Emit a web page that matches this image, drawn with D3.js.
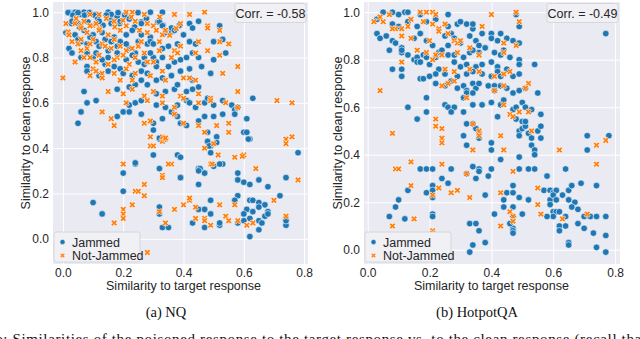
<!DOCTYPE html>
<html lang="en">
<head>
<meta charset="UTF-8">
<title>Similarity scatter</title>
<script src="https://d3js.org/d3.v7.min.js"></script>
<style>
  body { margin: 0; background: #fff; }
  svg { display: block; }
  .tick text { font-family: "Liberation Sans", Arial, sans-serif; font-size: 12px; fill: #262626; }
</style>
</head>
<body>
<div id="chart"></div>
<script>
// ---- data: [similarity to target, similarity to clean] ----
const nqJammed = [
  [0.02,1.0],[0.03,0.99],[0.04,1.0],[0.06,0.99],[0.07,1.0],[0.08,0.99],[0.11,0.99],[0.15,1.0],[0.16,0.99],[0.18,0.98],[0.29,1.0],[0.33,1.0],
  [0.017,0.998],[0.033,0.987],[0.05,0.998],[0.072,0.987],[0.088,0.998],[0.105,0.987],[0.144,0.987],[0.183,0.998],[0.205,0.987],[0.249,0.998],
  [0.028,0.95],[0.055,0.935],[0.083,0.957],[0.116,0.972],[0.133,0.942],[0.16,0.964],[0.188,0.95],[0.238,0.935],[0.26,0.957],[0.277,0.972],[0.315,0.957],[0.332,0.942],[0.36,0.913],[0.387,0.942],
  [0.03,0.96],[0.05,0.95],[0.12,0.96],[0.16,0.95],[0.19,0.96],[0.22,0.97],[0.26,0.95],[0.32,0.96],[0.33,0.94],[0.42,0.95],[0.45,0.96],[0.52,0.94],
  [0.01,0.91],[0.04,0.90],[0.07,0.92],[0.10,0.90],[0.13,0.91],[0.17,0.89],[0.21,0.90],[0.23,0.92],[0.26,0.90],[0.29,0.89],[0.34,0.91],[0.36,0.93],[0.37,0.92],[0.40,0.90],[0.43,0.93],
  [0.06,0.87],[0.09,0.89],[0.14,0.88],[0.15,0.83],[0.19,0.87],[0.22,0.84],[0.24,0.82],[0.10,0.80],[0.14,0.77],[0.17,0.76],[0.25,0.78],[0.27,0.77],[0.35,0.76],[0.30,0.80],
  [0.02,0.84],[0.05,0.88],[0.08,0.86],[0.11,0.87],[0.12,0.85],[0.16,0.87],[0.18,0.85],[0.21,0.86],[0.25,0.87],[0.28,0.86],[0.29,0.87],[0.30,0.86],[0.33,0.84],[0.35,0.85],[0.38,0.86],[0.42,0.87],[0.44,0.86],[0.50,0.87],[0.53,0.88],
  [0.03,0.82],[0.06,0.80],[0.08,0.82],[0.11,0.82],[0.13,0.79],[0.15,0.80],[0.18,0.82],[0.21,0.79],[0.23,0.81],[0.27,0.80],[0.29,0.82],[0.31,0.78],[0.33,0.80],[0.37,0.78],[0.39,0.79],[0.41,0.80],[0.43,0.82],[0.45,0.80],[0.50,0.79],[0.54,0.82],
  [0.08,0.76],[0.08,0.74],[0.12,0.72],[0.15,0.74],[0.19,0.75],[0.20,0.73],[0.23,0.72],[0.26,0.74],[0.28,0.73],[0.31,0.76],[0.33,0.71],[0.36,0.72],[0.39,0.74],[0.42,0.75],[0.43,0.70],[0.46,0.76],[0.49,0.73],[0.26,0.70],[0.31,0.70],
  [0.18,0.66],[0.22,0.67],[0.24,0.68],[0.28,0.68],[0.31,0.64],[0.34,0.65],[0.37,0.66],[0.38,0.68],[0.41,0.65],[0.43,0.66],[0.45,0.67],[0.07,0.65],
  [0.08,0.60],[0.11,0.61],[0.22,0.59],[0.24,0.60],[0.26,0.61],[0.31,0.59],[0.34,0.58],[0.38,0.59],[0.41,0.61],[0.42,0.60],[0.44,0.58],[0.47,0.60],[0.50,0.59],[0.53,0.61],[0.56,0.59],[0.57,0.57],[0.63,0.62],[0.48,0.62],
  [0.06,0.56],[0.05,0.51],[0.18,0.54],[0.20,0.56],[0.22,0.56],[0.26,0.55],[0.30,0.51],[0.33,0.53],[0.36,0.56],[0.38,0.54],[0.39,0.51],[0.41,0.50],[0.45,0.52],[0.47,0.54],[0.50,0.54],[0.53,0.55],[0.57,0.55],[0.58,0.58],[0.61,0.53],[0.60,0.47],
  [0.30,0.48],[0.32,0.44],[0.34,0.44],[0.30,0.37],[0.38,0.37],[0.48,0.47],[0.51,0.45],[0.49,0.41],[0.48,0.43],[0.49,0.38],[0.62,0.44],[0.78,0.38],
  [0.24,0.33],[0.32,0.31],[0.45,0.31],[0.50,0.32],[0.53,0.33],[0.485,0.41],[0.51,0.425],[0.615,0.44],[0.61,0.47],[0.52,0.33],[0.455,0.31],[0.47,0.29],
  [0.39,0.36],[0.39,0.27],[0.24,0.335],[0.32,0.445],
  [0.20,0.29],[0.20,0.21],[0.10,0.16],[0.13,0.11],[0.32,0.14],[0.32,0.11],[0.33,0.05],[0.35,0.05],[0.39,0.27],[0.45,0.24],[0.49,0.17],[0.45,0.13],[0.47,0.13],[0.49,0.11],[0.47,0.05],[0.43,0.07],[0.52,0.06],[0.52,0.07],[0.47,0.29],[0.45,0.30],
  [0.58,0.29],[0.58,0.26],[0.60,0.25],[0.62,0.24],[0.65,0.26],[0.68,0.23],[0.58,0.19],[0.57,0.17],[0.62,0.17],[0.63,0.17],[0.65,0.16],[0.67,0.15],[0.65,0.14],[0.61,0.13],[0.60,0.11],[0.63,0.12],[0.62,0.09],[0.60,0.08],[0.65,0.08],[0.67,0.10],[0.68,0.12],[0.68,0.11],[0.66,0.07],[0.65,0.04],[0.62,0.01],[0.58,0.07],[0.72,0.19],[0.74,0.27],[0.74,0.09],[0.74,0.06],[0.74,0.08]
];
const nqNotJammed = [
  [0.09,0.99],[0.12,0.99],[0.21,1.0],[0.23,1.0],[0.27,0.99],[0.37,0.99],[0.42,0.99],[0.47,1.0],
  [0.017,0.913],[0.044,0.972],[0.061,0.942],[0.099,0.942],[0.122,0.928],[0.144,0.972],[0.172,0.935],[0.199,0.964],[0.227,0.979],[0.254,0.92],[0.321,0.979],[0.354,0.898],[0.376,0.928],
  [0.05,0.86],[0.08,0.84],[0.10,0.88],[0.13,0.86],[0.16,0.84],[0.18,0.80],[0.21,0.83],[0.25,0.85],[0.27,0.82],[0.11,0.78],[0.15,0.77],[0.22,0.77],[0.30,0.78],[0.32,0.83],[0.07,0.80],[0.04,0.78],[0.10,0.75],[0.13,0.73],[0.19,0.70],[0.24,0.73],
  [0.01,0.95],[0.04,0.95],[0.07,0.96],[0.09,0.94],[0.11,0.95],[0.17,0.96],[0.21,0.94],[0.24,0.96],[0.28,0.95],[0.30,0.94],[0.39,0.95],[0.48,0.94],
  [0.02,0.90],[0.06,0.93],[0.08,0.91],[0.12,0.92],[0.15,0.90],[0.19,0.92],[0.28,0.91],[0.31,0.92],[0.33,0.90],[0.34,0.92],[0.48,0.93],[0.52,0.92],
  [0.03,0.87],[0.06,0.88],[0.09,0.86],[0.14,0.85],[0.17,0.88],[0.19,0.85],[0.23,0.84],[0.26,0.87],[0.32,0.87],[0.37,0.83],[0.39,0.85],[0.45,0.87],[0.52,0.87],[0.55,0.86],
  [0.06,0.83],[0.09,0.80],[0.12,0.81],[0.17,0.79],[0.20,0.81],[0.24,0.80],[0.28,0.78],[0.36,0.80],[0.38,0.82],[0.44,0.82],[0.48,0.83],[0.52,0.81],[0.58,0.76],
  [0.00,0.71],[0.09,0.72],[0.11,0.74],[0.13,0.71],[0.17,0.73],[0.21,0.75],[0.23,0.70],[0.29,0.72],[0.33,0.74],[0.34,0.70],[0.40,0.71],[0.42,0.71],[0.44,0.70],[0.53,0.73],
  [0.15,0.65],[0.20,0.64],[0.23,0.66],[0.27,0.63],[0.30,0.65],[0.33,0.63],[0.39,0.63],[0.45,0.64],[0.49,0.62],[0.58,0.65],
  [0.21,0.60],[0.28,0.61],[0.33,0.60],[0.37,0.58],[0.40,0.62],[0.45,0.60],[0.49,0.61],[0.54,0.60],[0.58,0.58],[0.71,0.61],[0.76,0.60],
  [0.13,0.56],[0.16,0.53],[0.17,0.50],[0.27,0.51],[0.29,0.52],[0.37,0.55],[0.40,0.51],[0.45,0.50],[0.51,0.50],[0.55,0.51],[0.55,0.47],
  [0.29,0.45],[0.29,0.41],[0.33,0.43],[0.34,0.44],[0.47,0.40],[0.50,0.42],[0.57,0.36],[0.60,0.37],[0.74,0.44],[0.76,0.45],[0.74,0.42],[0.47,0.47],
  [0.20,0.33],[0.36,0.33],[0.49,0.33],[0.64,0.31],[0.30,0.41],[0.33,0.45],[0.34,0.445],[0.35,0.33],[0.33,0.28],[0.515,0.37],[0.595,0.364],[0.495,0.33],
  [0.33,0.27],[0.24,0.21],[0.25,0.21],[0.27,0.24],[0.27,0.19],[0.23,0.15],[0.20,0.13],[0.20,0.11],[0.20,0.09],[0.17,0.07],[0.32,0.12],[0.34,0.07],[0.37,0.13],[0.40,0.15],[0.42,0.17],[0.42,0.18],[0.44,0.14],[0.44,0.09],[0.47,0.09],[0.47,0.08],[0.49,0.06],
  [0.52,0.15],[0.54,0.10],[0.55,0.08],[0.57,0.15],[0.58,0.08],[0.61,0.06],[0.63,0.07],[0.70,0.17],[0.78,0.26],[0.74,0.10],[0.28,-0.06],[0.20,0.01]
];
const hotpotJammed = [
  [0.05,1.0],[0.08,1.0],[0.10,0.99],[0.12,1.0],[0.13,1.0],[0.17,0.99],[0.26,0.99],[0.48,0.99],
  [0.03,0.97],[0.08,0.95],[0.10,0.94],[0.13,0.96],[0.16,0.94],[0.19,0.96],[0.22,0.97],[0.26,0.94],[0.29,0.95],[0.30,0.96],[0.32,0.95],[0.34,0.93],[0.34,0.95],[0.49,0.94],
  [0.03,0.91],[0.04,0.89],[0.06,0.90],[0.08,0.88],[0.09,0.87],[0.07,0.84],[0.11,0.85],[0.15,0.89],[0.17,0.91],[0.19,0.88],[0.21,0.86],[0.25,0.90],[0.27,0.91],[0.28,0.89],[0.30,0.87],[0.33,0.90],[0.35,0.88],[0.36,0.86],[0.40,0.91],[0.42,0.88],[0.43,0.91],[0.45,0.89],[0.47,0.88],[0.49,0.87],[0.40,0.89],[0.37,0.91],
  [0.11,0.83],[0.11,0.84],[0.13,0.82],[0.15,0.80],[0.16,0.81],[0.18,0.82],[0.19,0.81],[0.23,0.83],[0.24,0.84],[0.26,0.82],[0.26,0.86],[0.28,0.82],[0.31,0.81],[0.33,0.83],[0.34,0.84],[0.36,0.83],[0.38,0.85],[0.41,0.83],[0.43,0.82],[0.44,0.84],[0.46,0.81],[0.49,0.80],[0.22,0.81],
  [0.08,0.76],[0.11,0.76],[0.11,0.73],[0.16,0.79],[0.17,0.79],[0.20,0.78],[0.23,0.76],[0.28,0.79],[0.30,0.77],[0.32,0.78],[0.35,0.77],[0.37,0.78],[0.40,0.79],[0.42,0.77],[0.45,0.76],[0.49,0.78],[0.54,0.78],
  [0.17,0.72],[0.18,0.72],[0.20,0.73],[0.22,0.74],[0.25,0.74],[0.29,0.73],[0.32,0.74],[0.34,0.75],[0.37,0.74],[0.40,0.73],[0.42,0.75],[0.43,0.73],[0.47,0.73],[0.49,0.74],
  [0.22,0.70],[0.25,0.69],[0.27,0.71],[0.29,0.68],[0.31,0.69],[0.32,0.67],[0.34,0.70],[0.35,0.68],[0.36,0.70],[0.39,0.69],[0.41,0.69],[0.43,0.69],[0.45,0.68],[0.47,0.66],[0.49,0.67],[0.51,0.68],[0.55,0.66],[0.19,0.64],[0.32,0.66],[0.34,0.66],[0.41,0.67],
  [0.13,0.60],[0.16,0.55],[0.19,0.58],[0.25,0.61],[0.26,0.60],[0.28,0.60],[0.27,0.58],[0.31,0.58],[0.34,0.61],[0.37,0.61],[0.40,0.62],[0.42,0.56],[0.43,0.61],[0.44,0.63],[0.47,0.59],[0.48,0.60],[0.50,0.62],[0.51,0.60],[0.53,0.59],[0.56,0.57],[0.48,0.55],[0.50,0.54],[0.31,0.64],
  [0.32,0.53],[0.34,0.53],[0.35,0.51],[0.36,0.49],[0.31,0.48],[0.32,0.44],[0.36,0.47],[0.40,0.45],[0.40,0.42],[0.43,0.38],[0.49,0.50],[0.49,0.48],[0.50,0.51],[0.52,0.49],[0.51,0.52],[0.51,0.54],[0.53,0.47],[0.53,0.44],[0.54,0.42],[0.54,0.40],[0.55,0.50],[0.56,0.52],[0.56,0.47],[0.49,0.39],[0.71,0.48],[0.71,0.42],[0.78,0.48],[0.77,0.91],
  [0.17,0.34],[0.19,0.34],[0.21,0.34],[0.27,0.34],[0.34,0.35],[0.36,0.34],[0.40,0.34],[0.49,0.34],[0.64,0.34],[0.52,0.34],
  [0.24,0.30],[0.13,0.25],[0.19,0.24],[0.21,0.27],[0.21,0.25],[0.21,0.22],[0.10,0.21],[0.09,0.18],[0.07,0.14],[0.21,0.15],[0.21,0.14],[0.21,0.07],[0.12,0.13],[0.26,0.28],[0.32,0.32],[0.35,0.30],[0.36,0.33],[0.39,0.31],[0.38,0.23],
  [0.33,0.11],[0.35,0.11],[0.36,0.08],[0.34,0.02],[0.33,-0.01],[0.38,0.03],[0.41,0.15],[0.44,0.21],[0.45,0.24],[0.44,0.18],[0.47,0.27],[0.47,0.24],[0.47,0.18],[0.47,0.14],[0.47,0.09],[0.47,0.08],[0.47,0.07],[0.46,0.11],[0.49,0.22],[0.50,0.15],[0.52,0.21],
  [0.57,0.25],[0.59,0.25],[0.60,0.24],[0.61,0.25],[0.65,0.25],[0.59,0.21],[0.59,0.19],[0.60,0.23],[0.61,0.21],[0.63,0.23],[0.65,0.21],[0.66,0.27],[0.69,0.28],[0.67,0.20],[0.66,0.18],[0.68,0.17],[0.60,0.16],[0.61,0.16],[0.62,0.16],[0.60,0.14],[0.58,0.14],
  [0.62,0.10],[0.62,0.08],[0.64,0.14],[0.64,0.10],[0.65,0.03],[0.65,0.02],[0.68,0.11],[0.70,0.09],[0.70,0.14],[0.72,0.14],[0.74,0.14],[0.73,0.07],[0.77,0.06],[0.77,0.14],[0.74,0.01],[0.77,-0.01],[0.74,0.27],[0.58,0.31],[0.54,0.34]
];
const hotpotNotJammed = [
  [0.02,0.96],[0.04,0.98],[0.07,0.99],[0.14,0.97],[0.17,1.0],[0.19,1.0],[0.21,1.0],[0.22,0.99],[0.40,0.99],[0.48,1.0],
  [0.05,0.96],[0.09,0.93],[0.11,0.93],[0.13,0.94],[0.18,0.96],[0.21,0.95],[0.23,0.93],[0.25,0.95],[0.37,0.94],[0.49,0.96],
  [0.08,0.93],[0.11,0.90],[0.14,0.89],[0.20,0.88],[0.23,0.92],[0.26,0.91],[0.28,0.88],[0.29,0.87],[0.30,0.88],[0.44,0.87],[0.48,0.86],
  [0.16,0.84],[0.19,0.83],[0.22,0.82],[0.24,0.82],[0.29,0.83],[0.33,0.85],[0.36,0.82],[0.44,0.83],
  [0.11,0.79],[0.21,0.80],[0.25,0.76],[0.28,0.75],[0.33,0.76],[0.36,0.75],[0.41,0.73],[0.44,0.74],[0.46,0.75],
  [0.04,0.67],[0.24,0.69],[0.26,0.70],[0.28,0.71],[0.32,0.64],[0.41,0.67],[0.44,0.69],[0.52,0.70],[0.51,0.68],
  [0.22,0.55],[0.44,0.61],[0.46,0.57],[0.47,0.56],[0.52,0.58],[0.49,0.58],
  [0.08,0.49],[0.22,0.52],[0.24,0.51],[0.24,0.47],[0.24,0.45],[0.34,0.53],[0.36,0.50],[0.36,0.48],[0.34,0.42],[0.43,0.48],[0.44,0.42],[0.53,0.50],[0.62,0.42],[0.74,0.44],[0.77,0.46],[0.74,0.36],
  [0.14,0.37],[0.24,0.36],[0.09,0.34],
  [0.10,0.34],[0.14,0.27],[0.08,0.10],[0.15,0.13],[0.21,0.23],[0.21,0.08],[0.21,0.07],[0.23,0.26],[0.27,0.24],[0.29,0.25],[0.32,0.32],[0.33,0.22],[0.43,0.24],[0.43,0.10],[0.46,0.16],[0.47,0.14],[0.47,0.12],[0.47,0.33],[0.55,0.26],[0.55,0.19],[0.56,0.15],[0.63,0.13],[0.71,0.15]
];
const xTicks = [0.0, 0.2, 0.4, 0.6, 0.8];
const yTicks = [0.0, 0.2, 0.4, 0.6, 0.8, 1.0];
const seriesNames = ["Jammed", "Not-Jammed"];
const corrLabels = ["Corr. = -0.58", "Corr. = -0.49"];
const captions = ["(a) NQ", "(b) HotpotQA"];

const W = 640, H = 339;
const blue = "#1f77b4", orange = "#ff7f0e";
const sans = "Liberation Sans, Arial, sans-serif";
const serif = "Liberation Serif, Times New Roman, serif";

const svg = d3.select("#chart").append("svg").attr("width", W).attr("height", H);

const panels = [
  { left: 53, right: 308, top: 2, bottom: 264, xDom: [-0.033, 0.813], yDom: [-0.111, 1.045],
    jammed: nqJammed, notJammed: nqNotJammed, corr: corrLabels[0], caption: captions[0], yLabelX: 30, capX: 166 },
  { left: 364, right: 620, top: 2, bottom: 264, xDom: [-0.012, 0.816], yDom: [-0.06, 1.043],
    jammed: hotpotJammed, notJammed: hotpotNotJammed, corr: corrLabels[1], caption: captions[1], yLabelX: 342, capX: 477 }
];

const xShape = d3.symbol().type(d3.symbolCross);

function drawPanel(p) {
  const x = d3.scaleLinear().domain(p.xDom).range([p.left, p.right]);
  const y = d3.scaleLinear().domain(p.yDom).range([p.bottom, p.top]);
  const g = svg.append("g");

  g.append("rect")
    .attr("x", p.left).attr("y", p.top)
    .attr("width", p.right - p.left).attr("height", p.bottom - p.top)
    .attr("fill", "#eaeaf2");

  // grid + tick labels via axes
  g.append("g")
    .attr("transform", "translate(0," + p.bottom + ")")
    .call(d3.axisBottom(x).tickValues(xTicks).tickFormat(d3.format(".1f"))
      .tickSize(-(p.bottom - p.top)).tickPadding(4))
    .call(a => a.select(".domain").remove())
    .call(a => a.selectAll("line").attr("stroke", "#fff").attr("stroke-width", 1));

  g.append("g")
    .attr("transform", "translate(" + p.left + ",0)")
    .call(d3.axisLeft(y).tickValues(yTicks).tickFormat(d3.format(".1f"))
      .tickSize(-(p.right - p.left)).tickPadding(4))
    .call(a => a.select(".domain").remove())
    .call(a => a.selectAll("line").attr("stroke", "#fff").attr("stroke-width", 1));

  const clip = "clip" + p.left;
  svg.append("clipPath").attr("id", clip).append("rect")
    .attr("x", p.left).attr("y", p.top)
    .attr("width", p.right - p.left).attr("height", p.bottom - p.top);
  const marks = g.append("g").attr("clip-path", "url(#" + clip + ")");

  marks.selectAll("circle")
    .data(p.jammed)
    .enter().append("circle")
    .attr("cx", d => x(d[0]))
    .attr("cy", d => y(d[1]))
    .attr("r", 3.3)
    .attr("fill", blue)
    .attr("stroke", "#fff")
    .attr("stroke-width", 0.6);

  marks.selectAll("path.nj")
    .data(p.notJammed)
    .enter().append("path")
    .attr("class", "nj")
    .attr("d", xShape.size(26))
    .attr("transform", d => "translate(" + x(d[0]) + "," + y(d[1]) + ") rotate(45)")
    .attr("fill", orange)
    .attr("stroke", "#fff")
    .attr("stroke-width", 0.6);

  // correlation box
  const cw = 71, ch = 19;
  g.append("rect")
    .attr("x", p.right - cw - 2).attr("y", p.top + 1.5)
    .attr("width", cw).attr("height", ch).attr("rx", 2)
    .attr("fill", "#f0f0f5").attr("stroke", "#cfcfd6").attr("stroke-width", 0.8);
  g.append("text")
    .attr("x", p.right - 2 - cw / 2).attr("y", p.top + 16)
    .attr("text-anchor", "middle")
    .style("font-family", sans).style("font-size", "12.5px").attr("fill", "#262626")
    .text(p.corr);

  // legend
  const lx = p.left + 1, ly = p.bottom - 32;
  g.append("rect")
    .attr("x", lx).attr("y", ly).attr("width", 86).attr("height", 30).attr("rx", 2)
    .attr("fill", "#f0f0f5").attr("stroke", "#cfcfd6").attr("stroke-width", 0.8);
  g.append("circle").attr("cx", lx + 8.5).attr("cy", ly + 10).attr("r", 2.6)
    .attr("fill", blue).attr("stroke", "#fff").attr("stroke-width", 0.5);
  g.append("path").attr("d", xShape.size(16))
    .attr("transform", "translate(" + (lx + 8.5) + "," + (ly + 23.5) + ") rotate(45)")
    .attr("fill", orange).attr("stroke", "#fff").attr("stroke-width", 0.5);
  seriesNames.forEach((s, i) => {
    g.append("text")
      .attr("x", lx + 18).attr("y", ly + 14.5 + i * 13.5)
      .style("font-family", sans).style("font-size", "12.5px").attr("fill", "#262626")
      .text(s);
  });

  // axis labels
  g.append("text")
    .attr("x", x(0.4)).attr("y", 290)
    .attr("text-anchor", "middle")
    .style("font-family", sans).style("font-size", "12.5px").attr("fill", "#262626")
    .text("Similarity to target response");
  g.append("text")
    .attr("transform", "translate(" + p.yLabelX + "," + ((p.top + p.bottom) / 2) + ") rotate(-90)")
    .attr("text-anchor", "middle")
    .style("font-family", sans).style("font-size", "12.5px").attr("fill", "#262626")
    .text("Similarity to clean response");

  g.append("text")
    .attr("x", p.capX).attr("y", 317)
    .attr("text-anchor", "middle")
    .style("font-family", serif).style("font-size", "14.5px").attr("fill", "#111")
    .text(p.caption);
}

panels.forEach(drawPanel);

// figure caption line, cut by the bottom edge as in the source
svg.append("text")
  .attr("x", -4).attr("y", 344)
  .attr("textLength", 650)
  .style("font-family", serif).style("font-size", "15px").attr("fill", "#111")
  .text("e: Similarities of the poisoned response to the target response vs. to the clean response (recall that");
</script>
</body>
</html>
